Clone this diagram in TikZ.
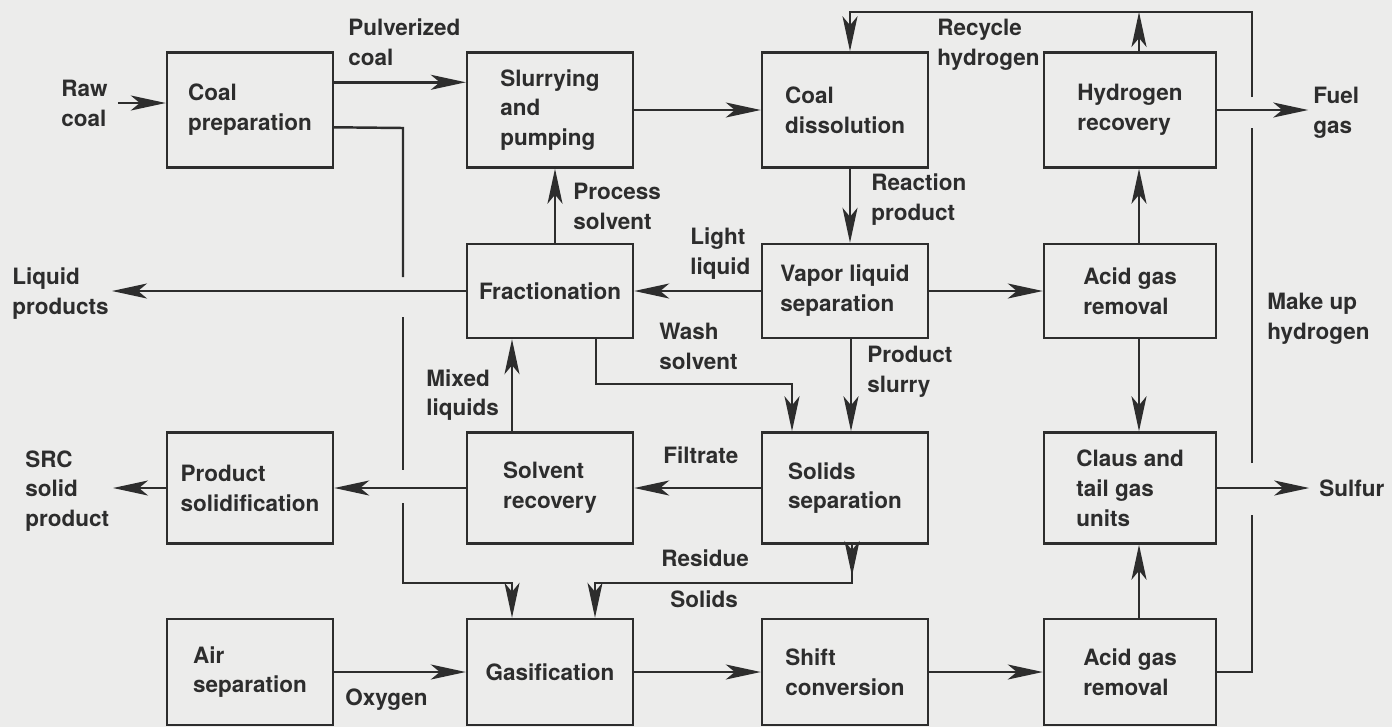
\documentclass[tikz,border=0pt]{standalone}
\usepackage{fontspec}
\setmainfont{TeX Gyre Heros}
\usetikzlibrary{calc,arrows.meta}
\definecolor{paper}{RGB}{236,236,235}
\definecolor{ink}{RGB}{45,45,45}

\begin{document}
\begin{tikzpicture}[x=0.02cm,y=-0.02cm,
  every node/.style={font=\fontsize{12.8}{17}\selectfont\bfseries,text=ink},
  unit/.style={draw=ink,line width=1.4pt,minimum width=3.32cm,align=left,inner sep=0pt},
  lbl/.style={align=left,anchor=west,inner sep=0pt},
  pipe/.style={draw=ink,line width=1.4pt},
  flow/.style={pipe,-{Stealth[length=7mm,width=3mm,inset=1.8mm]}}]

 \fill[paper] (0,0) rectangle (1392,727);
 \useasboundingbox (0,0) rectangle (1392,727);

 % process units
 \node[unit,minimum height=2.3cm] (prep) at (250,110) {Coal\\preparation};
 \node[unit,minimum height=2.3cm] (slurry) at (550,110) {Slurrying\\and\\pumping};
 \node[unit,minimum height=2.3cm] (dissol) at (845,110) {Coal\\dissolution};
 \node[unit,minimum height=2.3cm,minimum width=3.44cm] (hrec) at (1130,110) {Hydrogen\\recovery};

 \node[unit,minimum height=1.88cm] (frac) at (550,291) {Fractionation};
 \node[unit,minimum height=1.88cm] (vapor) at (845,291) {Vapor liquid\\separation};
 \node[unit,minimum height=1.88cm,minimum width=3.44cm] (acid) at (1130,291) {Acid gas\\removal};

 \node[unit,minimum height=2.22cm] (prodsol) at (250,488) {Product\\solidification};
 \node[unit,minimum height=2.22cm] (solvrec) at (550,488) {Solvent\\recovery};
 \node[unit,minimum height=2.22cm] (solids) at (845,488) {Solids\\separation};
 \node[unit,minimum height=2.22cm,minimum width=3.44cm] (claus) at (1130,488) {Claus and\\tail gas\\units};

 \node[unit,minimum height=2.12cm] (airsep) at (250,672) {Air\\separation};
 \node[unit,minimum height=2.12cm] (gasif) at (550,672) {Gasification};
 \node[unit,minimum height=2.12cm] (shift) at (845,672) {Shift\\conversion};
 \node[unit,minimum height=2.12cm,minimum width=3.44cm] (acidb) at (1130,672) {Acid gas\\removal};

 % stream labels
 \node[lbl] (rawcoal) at (61,103) {Raw\\coal};
 \node[lbl] at (348,42) {Pulverized\\coal};
 \node[lbl] at (937,45) {Recycle\\hydrogen};
 \node[lbl] (fuel) at (1313,113) {Fuel\\gas};
 \node[lbl] at (573,206) {Process\\solvent};
 \node[lbl] at (871,200) {Reaction\\product};
 \node[lbl] at (690,254) {Light\\liquid};
 \node[lbl] (liqprod) at (12,294) {Liquid\\products};
 \node[lbl] at (1267,319) {Make up\\hydrogen};
 \node[lbl] at (659,346) {Wash\\solvent};
 \node[lbl] at (867,372) {Product\\slurry};
 \node[lbl] at (426,395) {Mixed\\liquids};
 \node[lbl] at (663,455) {Filtrate};
 \node[lbl] (src) at (25,491) {SRC\\solid\\product};
 \node[lbl] (sulfur) at (1319,488) {Sulfur};
 \node[lbl] at (661,558) {Residue};
 \node[lbl] at (670,599) {Solids};
 \node[lbl] at (345,700) {Oxygen};

 \coordinate (pc) at ($(prep.north east)+(0,31)$);
 \coordinate (pg) at ($(prep.north east)+(0,76)$);

 % coal side
 \draw[flow] ($(rawcoal.east)+(10,0)$) -- (rawcoal.east -| prep.west);
 \draw[flow] (pc) -- (pc -| slurry.west);
 \draw[pipe] (pg) -- (403,128) -- (403,277);
 \draw[pipe] (403,317) -- (403,470);
 \draw[flow] (403,503) -- (403,583) -- (512,583) -- (gasif.north -| 512,0);
 \draw[flow] (slurry.east) -- (dissol.west);
 \draw[flow] (dissol.south -| 850,0) -- (vapor.north -| 850,0);

 % hydrogen loop
 \draw[flow] (hrec.north -| 1139,0) -- (1139,12);
 \draw[pipe] (acidb.east) -- (1252,672) -- (1252,515);
 \draw[pipe] (1252,463) -- (1252,128);
 \draw[flow] (1252,97) -- (1252,12) -- (850,12) -- (dissol.north -| 850,0);
 \draw[flow] (hrec.east) -- ++(91,0);
 \draw[flow] (acid.north -| 1139,0) -- (hrec.south -| 1139,0);
 \draw[flow] (vapor.east) -- (acid.west);
 \draw[flow] (acid.south -| 1139,0) -- (claus.north -| 1139,0);
 \draw[flow] (acidb.north -| 1139,0) -- (claus.south -| 1139,0);
 \draw[flow] (claus.east) -- ++(92,0);

 % liquids
 \draw[flow] (vapor.west) -- (frac.east);
 \draw[flow] (frac.west) -- (frac.west -| 112,0);
 \draw[flow] (frac.north -| 555,0) -- (slurry.south -| 555,0);
 \draw[flow] (frac.south -| 596,0) -- (596,384) -- (792,384) -- (solids.north -| 792,0);
 \draw[flow] (vapor.south -| 851,0) -- (solids.north -| 851,0);
 \draw[flow] (solvrec.north -| 512,0) -- (frac.south -| 512,0);
 \draw[flow] (solids.west) -- (solvrec.east);
 \draw[flow] (solvrec.west) -- (prodsol.east);
 \draw[flow] (prodsol.west) -- (prodsol.west -| 113,0);

 % gasification train
 \draw[flow] (solids.south -| 852,0) -- (852,576);
 \draw[flow] (852,570) -- (852,583) -- (595,583) -- (gasif.north -| 595,0);
 \draw[flow] (airsep.east) -- (gasif.west);
 \draw[flow] (gasif.east) -- (shift.west);
 \draw[flow] (shift.east) -- (acidb.west);

\end{tikzpicture}
\end{document}
